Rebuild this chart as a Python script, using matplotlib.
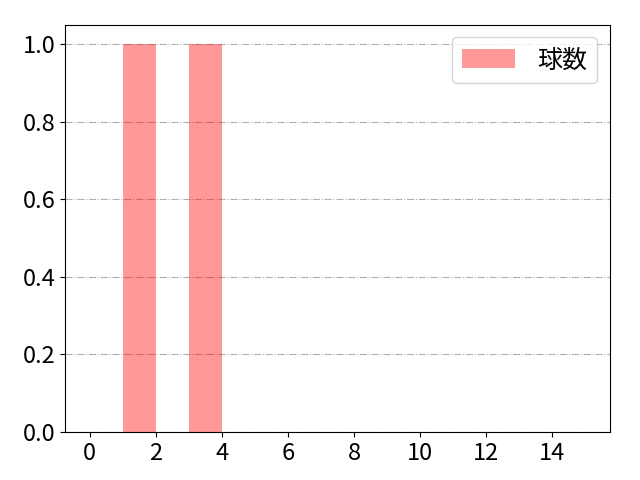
import numpy as np
import matplotlib.pyplot as plt

plt.rcParams['font.family'] = ['Noto Sans CJK JP', 'DejaVu Sans']

# 投球データ (値 1 と 3 が一球ずつ)
pitches = [1, 3]
bins = list(range(0, 16))
xticks = list(range(0, 16, 2))
label = '球数'

fig, ax = plt.subplots(figsize=(6.4, 4.8), dpi=100)
ax.hist(pitches, bins=bins, color='red', alpha=0.4, label=label)
ax.set_xticks(xticks)
ax.grid(axis='y', linestyle='-.', color='#b0b0b0')
ax.set_axisbelow(True)
ax.tick_params(labelsize=17)
ax.legend(fontsize=18, handlelength=2.1, handleheight=0.8, handletextpad=0.9)
fig.subplots_adjust(left=0.1016, right=0.953, top=0.948, bottom=0.1)
fig.savefig('out.png')
